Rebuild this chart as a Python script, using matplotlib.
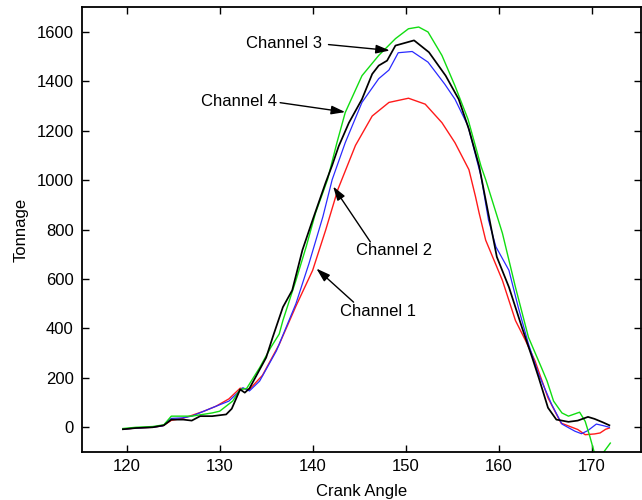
import matplotlib
matplotlib.use("Agg")
import matplotlib.pyplot as plt

plt.rcParams['font.family'] = ['Liberation Sans', 'DejaVu Sans']

# Channel 1 (red)
ch1_x = [119.6, 121.0, 122.8, 123.9, 124.8, 126.0, 127.0, 128.3, 129.6, 131.0, 132.2, 133.2,
         134.6, 136.4, 138.2, 140.0, 141.4, 142.7, 144.6, 146.4, 148.2, 150.3, 152.1, 153.9,
         155.3, 156.8, 157.5, 157.9, 158.6, 160.4, 161.8, 162.9, 163.9, 165.3, 166.7, 168.5,
         169.3, 170.3, 170.9, 171.5, 171.9]
ch1_y = [-8, -3, 0, 6, 28, 36, 48, 65, 85, 115, 158, 153,
         210, 335, 490, 635, 798, 961, 1140, 1259, 1314, 1331, 1307, 1232,
         1151, 1042, 934, 866, 757, 594, 432, 350, 269, 119, 17, -9,
         -30, -27, -23, -8, -3]

# Channel 2 (blue)
ch2_x = [119.6, 121.0, 122.8, 123.9, 124.8, 126.0, 127.0, 128.3, 129.6, 131.0, 132.5, 133.2,
         134.3, 136.1, 138.2, 139.6, 141.1, 142.1, 143.5, 145.3, 147.1, 148.2, 149.2, 150.7,
         152.4, 154.2, 155.3, 156.7, 158.1, 158.9, 159.7, 161.1, 162.1, 163.2, 164.3, 165.7,
         166.8, 168.2, 168.9, 169.6, 170.5, 171.2, 171.9]
ch2_y = [-8, -3, 0, 6, 36, 38, 45, 65, 85, 106, 160, 147,
         187, 309, 500, 662, 852, 1002, 1151, 1314, 1410, 1445, 1515, 1520,
         1477, 1388, 1327, 1219, 1015, 839, 730, 635, 486, 337, 214, 92,
         13, -16, -26, -13, 13, 7, 0]

# Channel 3 (black)
ch3_x = [119.6, 121.0, 122.8, 124.0, 124.8, 126.1, 127.0, 127.9, 129.2, 130.7, 131.3, 132.2,
         132.7, 133.2, 135.0, 135.7, 136.8, 137.8, 138.9, 140.0, 141.4, 142.1, 142.8, 143.9,
         145.3, 146.4, 147.1, 148.0, 148.9, 150.9, 152.5, 154.3, 155.7, 156.8, 157.9, 158.6,
         159.8, 161.1, 162.5, 163.6, 164.3, 165.3, 166.2, 166.8, 167.5, 168.5, 169.6, 170.3,
         171.2, 171.9]
ch3_y = [-8, -3, 0, 8, 31, 31, 27, 45, 45, 52, 75, 153,
         140, 157, 282, 364, 486, 554, 717, 839, 990, 1060, 1137, 1232,
         1327, 1429, 1463, 1483, 1544, 1565, 1517, 1422, 1327, 1205, 1056, 920,
         689, 567, 404, 282, 201, 79, 31, 27, 22, 27, 42, 34,
         20, 8]

# Channel 4 (green)
ch4_x = [119.6, 121.0, 122.8, 124.0, 124.8, 126.0, 127.0, 129.2, 130.0, 131.4, 132.2, 132.9,
         134.3, 135.5, 136.4, 136.8, 138.2, 139.3, 140.3, 141.6, 142.6, 143.5, 145.3, 147.1,
         148.9, 150.3, 151.4, 152.4, 153.9, 155.3, 156.7, 158.1, 158.6, 160.4, 161.8, 163.2,
         164.6, 165.2, 165.9, 166.8, 167.5, 168.7, 169.3, 169.8, 170.3, 170.7, 171.2, 172.0]
ch4_y = [-5, 0, 3, 10, 45, 45, 45, 58, 65, 106, 153, 157,
         241, 323, 377, 432, 594, 730, 866, 1002, 1150, 1273, 1422, 1504,
         1572, 1612, 1619, 1599, 1504, 1381, 1246, 1056, 1002, 785, 567, 364,
         241, 187, 106, 58, 45, 61, 24, -37, -105, -170, -105, -64]

x_ticks = [120, 130, 140, 150, 160, 170]
y_ticks = [0, 200, 400, 600, 800, 1000, 1200, 1400, 1600]

# label text (center), arrow start, arrow tip
labels = ['Channel 1', 'Channel 2', 'Channel 3', 'Channel 4']
label_xy = [(147.0, 469), (148.8, 716), (136.9, 1553), (132.1, 1316)]
arrow_from = [(144.4, 506), (146.2, 750), (141.7, 1548), (136.5, 1313)]
arrow_to = [(140.4, 642), (142.2, 974), (148.3, 1524), (143.5, 1275)]

fig = plt.figure(figsize=(6.42, 5.0), dpi=100)
ax = fig.add_axes([82 / 642, 1 - 452 / 500, (641 - 82) / 642, (452 - 7) / 500])

ax.plot(ch1_x, ch1_y, color='#ff1a1a', lw=1.0)
ax.plot(ch2_x, ch2_y, color='#2a2aff', lw=0.9)
ax.plot(ch4_x, ch4_y, color='#11dd11', lw=1.0)
ax.plot(ch3_x, ch3_y, color='black', lw=1.25)

for txt, pos, a, b in zip(labels, label_xy, arrow_from, arrow_to):
    ax.text(pos[0], pos[1], txt, ha='center', va='center', fontsize=12)
    ax.annotate('', xy=b, xytext=a,
                arrowprops=dict(arrowstyle='-|>,head_length=0.7,head_width=0.22',
                                color='black', lw=1.0, mutation_scale=12,
                                shrinkA=0, shrinkB=0))

ax.set_xlim(115.2, 175.3)
ax.set_ylim(-100, 1700)
ax.set_xticks(x_ticks)
ax.set_yticks(y_ticks)
ax.tick_params(direction='in', top=True, right=True, length=5, width=1,
               labelsize=12, pad=6)
ax.tick_params(axis='x', pad=5)
for sp in ax.spines.values():
    sp.set_linewidth(1.3)

ax.set_xlabel('Crank Angle', fontsize=12, labelpad=7)
ax.set_ylabel('Tonnage', fontsize=12, labelpad=6)

fig.savefig('out.png', dpi=100)
